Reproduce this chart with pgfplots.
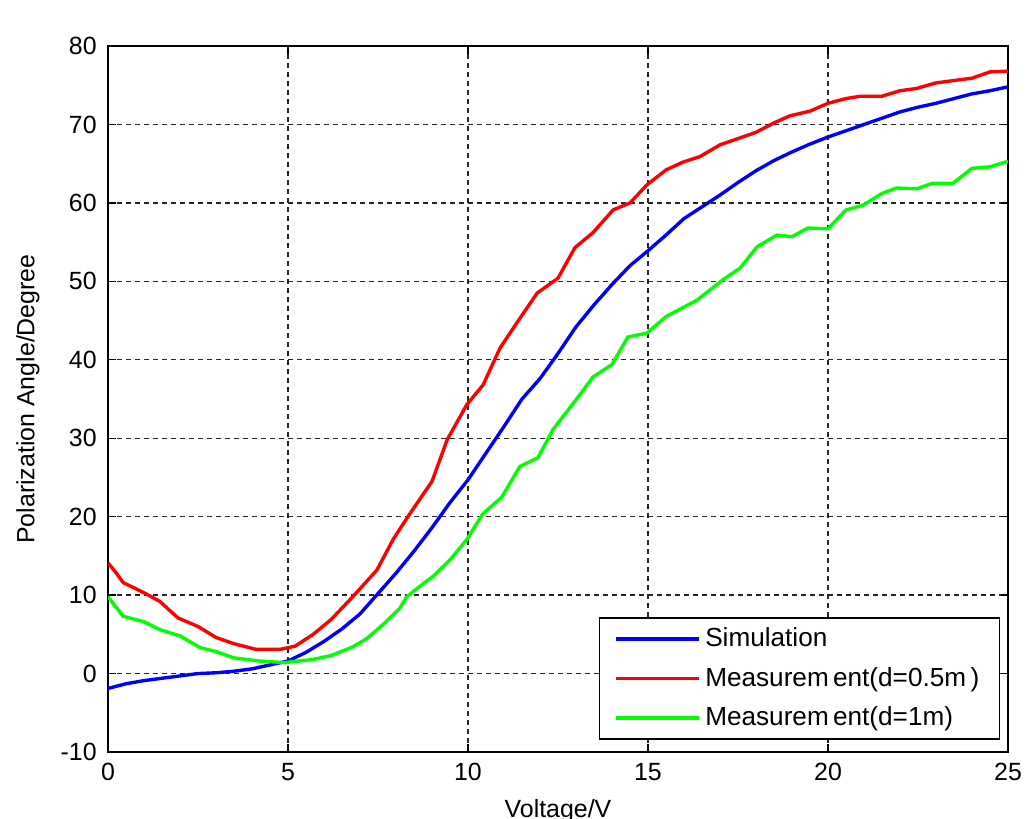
\documentclass[border=0pt]{standalone}
\usepackage{fontspec}
\setmainfont{Liberation Sans}
\usepackage{pgfplots}
\pgfplotsset{compat=1.18}

\begin{document}
\begin{tikzpicture}
\begin{axis}[
  name=ax,
  scale only axis,width=360bp,height=282.4bp,
  xmin=0,xmax=25,ymin=-10,ymax=80,
  xtick={0,5,...,25},ytick={-10,0,...,80},
  font=\fontsize{10}{12}\selectfont,
  /pgf/number format/assume math mode=true,
  tick align=inside,major tick length=3bp,
  tick style={black,line width=0.5bp},
  axis line style={black,line width=0.6bp},
  grid=major,
  major grid style={black!85,line width=0.55bp,dash pattern=on 2bp off 1.6bp},
  yticklabel style={xshift=-1bp},
  xticklabel style={yshift=-1bp},
  xlabel={Voltage/V},
  xlabel style={at={(axis description cs:0.5,0)},anchor=center,yshift=-23.5bp},
  ylabel={Polarization Angle/Degree},
  every axis y label/.append style={at={(axis description cs:-0.0889,0.5)},anchor=center},
  legend style={at={(rel axis cs:1,0)},anchor=south east,xshift=-3.2bp,yshift=4.8bp,
    draw=black,line width=0.6bp,inner xsep=6bp,inner ysep=2bp,
    row sep=2.7bp,font=\fontsize{10.5}{12}\selectfont},
  legend cell align=left,
  legend image code/.code={\draw[#1] (0bp,0bp) -- (33bp,0bp);},
  every axis plot/.append style={line width=1.35bp},
]
\addplot[color={rgb,255:red,0;green,0;blue,255}] coordinates {
(0,-1.9) (0.5,-1.3) (1,-0.9) (1.5,-0.6) (2,-0.3) (2.5,0) (3,0.1) (3.5,0.3) (4,0.6) (4.5,1.1) (5,1.6) (5.5,2.7) (6,4.1) (6.5,5.7) (7,7.6) (7.5,10.2) (8,12.8) (8.5,15.6) (9,18.6) (9.5,21.8) (10,24.7) (10.5,28.1) (11,31.5) (11.5,35.0) (12,37.6) (12.5,40.8) (13,44.2) (13.5,47.0) (14,49.6) (14.5,52.0) (15,53.9) (15.5,55.9) (16,58.0) (16.5,59.5) (17,61.0) (17.5,62.6) (18,64.1) (18.5,65.4) (19,66.5) (19.5,67.5) (20,68.4) (20.5,69.2) (21,70.0) (21.5,70.8) (22,71.6) (22.5,72.2) (23,72.7) (23.5,73.3) (24,73.9) (24.5,74.3) (25,74.8)
};
\addlegendentry{Simulation}
\addplot[color={rgb,255:red,255;green,0;blue,0}] coordinates {
(0,14.1) (0.2,13) (0.42,11.6) (1,10.3) (1.44,9.2) (1.94,7.1) (2.5,6.0) (3.0,4.6) (3.5,3.8) (4.1,3.1) (4.8,3.1) (5.2,3.5) (5.7,5.0) (6.2,6.9) (6.8,9.8) (7.47,13.2) (7.92,17.1) (8.33,20.0) (9.0,24.5) (9.42,29.8) (9.97,34.3) (10.42,36.8) (10.89,41.5) (11.4,45.0) (11.92,48.5) (12.5,50.4) (12.97,54.3) (13.47,56.2) (14.03,59.1) (14.5,60.0) (14.97,62.3) (15.5,64.2) (15.97,65.2) (16.44,65.9) (17.0,67.4) (17.5,68.2) (18.0,69.0) (18.5,70.2) (18.94,71.1) (19.5,71.7) (20.0,72.7) (20.5,73.3) (20.9,73.6) (21.5,73.6) (22.0,74.3) (22.47,74.6) (23.0,75.3) (23.5,75.6) (24.0,75.9) (24.5,76.7) (25,76.8)
};
\addlegendentry{Measurem\,ent(d=0.5m\,)}
\addplot[color={rgb,255:red,0;green,255;blue,0}] coordinates {
(0,9.8) (0.42,7.3) (1.0,6.6) (1.44,5.6) (2.0,4.8) (2.56,3.3) (3.0,2.8) (3.5,2.0) (4.2,1.6) (4.9,1.4) (5.7,1.8) (6.2,2.3) (6.8,3.4) (7.2,4.5) (7.7,6.5) (8.1,8.3) (8.3,9.8) (8.6,10.9) (9.03,12.4) (9.5,14.5) (9.97,17.1) (10.4,20.3) (10.94,22.5) (11.44,26.4) (11.94,27.5) (12.36,31.1) (13.1,35.5) (13.47,37.8) (14.0,39.4) (14.44,42.9) (14.97,43.4) (15.5,45.5) (16.36,47.6) (17.08,50.2) (17.56,51.7) (18.03,54.4) (18.58,55.9) (19.0,55.7) (19.44,56.8) (20.0,56.7) (20.5,59.1) (20.97,59.7) (21.5,61.2) (21.9,61.9) (22.47,61.8) (22.9,62.5) (23.47,62.5) (24.0,64.4) (24.5,64.6) (25,65.3)
};
\addlegendentry{Measurem\,ent(d=1m)}
\end{axis}
\pgfresetboundingbox
\path[use as bounding box] ([shift={(-43.2bp,-26.8bp)}]ax.south west) rectangle ([shift={(368.4bp,300.8bp)}]ax.south west);
\end{tikzpicture}
\end{document}
